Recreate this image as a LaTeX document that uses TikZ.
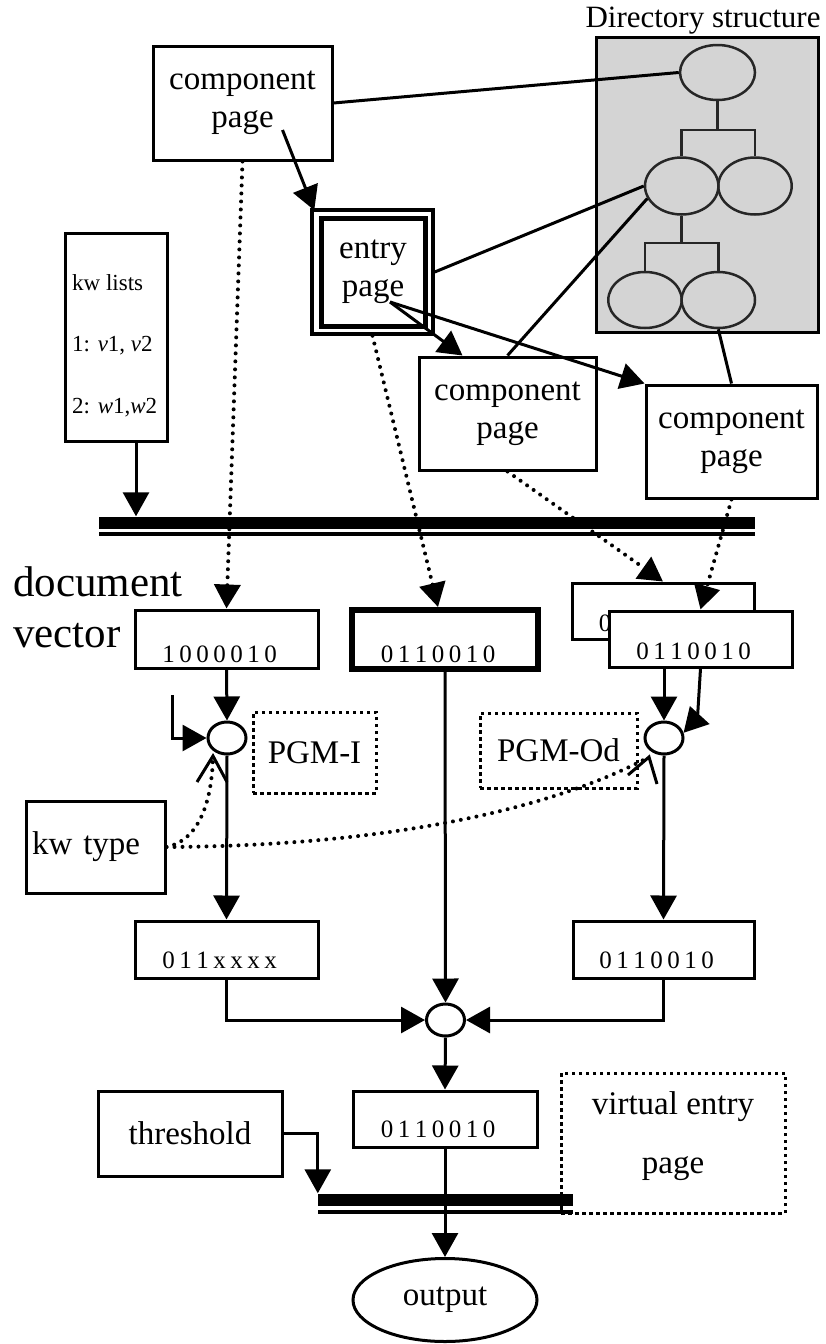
\documentclass[tikz,border=0pt]{standalone}
\usepackage{fontspec}
\setmainfont{Liberation Serif}
\usetikzlibrary{arrows.meta,shapes.geometric,calc}
\newcommand\fbig{\fontsize{33}{38}\selectfont}
\newcommand\fsmall{\fontsize{23}{27}\selectfont}
\newcommand\fbit{\fontsize{25}{29}\selectfont}
\newcommand\fhuge{\fontsize{43}{51}\selectfont}
\newcommand\fdir{\fontsize{31}{36}\selectfont}
\newcommand\bitstr[7]{#1\hspace{4.5pt}#2\hspace{4.5pt}#3\hspace{4.5pt}#4\hspace{4.5pt}#5\hspace{4.5pt}#6\hspace{4.5pt}#7}
\begin{document}
\begin{tikzpicture}[x=1pt,y=-1pt,
  >={Triangle[length=24pt,width=26pt]},
  cl/.style={line width=3pt},
  pbox/.style={draw, line width=3pt, fill=white, inner sep=0pt, font=\fbig, align=center},
  vbox/.style={draw, line width=3pt, fill=white, inner sep=0pt},
  bitst/.style={font=\fbit, inner sep=0pt},
  dotline/.style={line width=4pt, dash pattern=on 0pt off 8pt, line cap=round},
  dbox/.style={draw, line width=3pt, dash pattern=on 3.5pt off 3.5pt, inner sep=0pt, font=\fbig},
  direll/.style={ellipse, draw=black!85, line width=2.5pt, inner sep=0pt, minimum width=73.4pt, minimum height=57pt},
  dirln/.style={draw=black!85, line width=2.5pt},
  jn/.style={ellipse, draw, line width=3pt, fill=white, inner sep=0pt, minimum width=38pt, minimum height=32pt},
  bar/.style={fill=black, inner sep=0pt},
  txt/.style={inner sep=0pt}
]
\fill[white] (0,0) rectangle (825,1344);
\useasboundingbox (0,0) rectangle (825,1344);

% ---------- directory structure ----------
\node[txt, anchor=base, font=\fdir] (dirt) at (703,27) {Directory structure};
\node[draw, line width=3pt, fill=black!17, minimum width=222pt, minimum height=295pt, inner sep=0pt] (dir) at (707,184.5) {};
\node[direll, minimum width=75pt, minimum height=55pt] (d1) at (717.5,72.5) {};
\node[direll] (d2) at (681.7,186) {};
\node[direll] (d3) at (755,186) {};
\node[direll, minimum height=56pt] (d4) at (645,300) {};
\node[direll, minimum height=56pt] (d5) at (718.3,300) {};
\draw[dirln] (d1.south) -- (d1.south |- 0,130);
\draw[dirln] (d2.north) -- (d2.north |- 0,130) -- (d3.north |- 0,130) -- (d3.north);
\draw[dirln] (d2.south) -- (d2.south |- 0,243);
\draw[dirln] (d4.north) -- (d4.north |- 0,243) -- (d5.north |- 0,243) -- (d5.north);

% ---------- pages ----------
\node[pbox, minimum width=179pt, minimum height=114pt] (cp1) at (242.5,103) {component\\page};
\node[pbox, minimum width=177pt, minimum height=113pt] (cp2) at (507.5,413.5) {component\\page};
\node[pbox, minimum width=171pt, minimum height=113pt] (cp3) at (731.5,441.5) {component\\page};
\node[draw, line width=3.5pt, fill=white, minimum width=121pt, minimum height=124pt, inner sep=0pt] (epo) at (372.5,272) {};
\node[draw, line width=5pt, minimum width=104pt, minimum height=108pt, inner sep=0pt, font=\fbig, align=center] (ep) at (373,272) {entry\\page};

% ---------- kw lists ----------
\node[draw, line width=3pt, minimum width=102pt, minimum height=208pt, inner sep=0pt] (kw) at (116,337) {};
\node[txt, font=\fsmall, anchor=base west] (kw1) at (72,290) {kw lists};
\node[txt, font=\fsmall, anchor=base west] (kw2) at (72,351) {1: \textit{v}1, \textit{v}2};
\node[txt, font=\fsmall, anchor=base west] (kw3) at (72,413) {2: \textit{w}1,\textit{w}2};

% ---------- top bus ----------
\node[bar, minimum width=656pt, minimum height=12pt] (bus) at (427,522.5) {};
\node[bar, minimum width=656pt, minimum height=4pt] (busb) at (427,534) {};

% ---------- document vector ----------
\node[txt, font=\fhuge, anchor=base west] (dv1) at (13,596) {document};
\node[txt, font=\fhuge, anchor=base west] (dv2) at (13,647) {vector};

\node[vbox, minimum width=183pt, minimum height=58pt] (v1) at (226.5,639) {};
\node[bitst] (t1) at ($(v1.center)+(-7,15)$) {\bitstr1000010};
\node[vbox, line width=6pt, minimum width=186pt, minimum height=59pt] (vm) at (445,639.5) {};
\node[bitst] (tm) at ($(vm.center)+(-7,15)$) {\bitstr0110010};
\node[vbox, minimum width=182pt, minimum height=56pt] (vb) at (663,611) {};
\node[bitst] (tb) at ($(vb.center)+(-7,12)$) {\bitstr0110010};
\node[vbox, minimum width=183pt, minimum height=56pt] (vf) at (700.5,639) {};
\node[bitst] (tf) at ($(vf.center)+(-7,12)$) {\bitstr0110010};

% ---------- PGM ----------
\node[jn] (e1) at (227,738) {};
\node[jn] (e2) at (664,738) {};
\node[dbox, minimum width=123pt, minimum height=81pt] (pI) at (314.5,752.5) {PGM-I};
\node[dbox, minimum width=157pt, minimum height=75pt] (pO) at (558.5,750.5) {PGM-Od};
\node[draw, line width=3pt, fill=white, minimum height=92pt, text width=127pt, inner xsep=6pt, inner ysep=0pt, align=left, font=\fbig] (kt) at (95.5,847) {kw type};

\node[vbox, minimum width=183pt, minimum height=57pt] (v2) at (226.5,949.5) {};
\node[bitst] (t2) at ($(v2.center)+(-7,11)$) {\bitstr011xxxx};
\node[vbox, minimum width=181pt, minimum height=57pt] (v3) at (663.5,949.5) {};
\node[bitst] (t3) at ($(v3.center)+(-7,11)$) {\bitstr0110010};
\node[jn] (m) at (445.5,1020) {};

% ---------- bottom ----------
\node[vbox, minimum width=184pt, minimum height=56pt] (v4) at (445,1119) {};
\node[bitst] (t4) at ($(v4.center)+(-7,10)$) {\bitstr0110010};
\node[pbox, minimum width=184pt, minimum height=85pt] (th) at (190,1133.5) {threshold};
\node[dbox, minimum width=224pt, minimum height=140pt] (ve) at (673,1143) {};
\node[txt, font=\fbig, anchor=base] (ve1) at (673,1114) {virtual entry};
\node[txt, font=\fbig, anchor=base] (ve2) at (673,1173) {page};
\node[bar, minimum width=255pt, minimum height=12pt] (bb) at (445.5,1199.5) {};
\node[bar, minimum width=255pt, minimum height=4pt] (bb2) at (445.5,1211.5) {};
\node[ellipse, draw, line width=3pt, fill=white, minimum width=184pt, minimum height=83pt, inner sep=0pt, font=\fbig] (out) at (445,1300) {output};

% ---------- connectors: top ----------
\draw[cl] (cp1.east) -- (d1.west);
\draw[cl] (epo.east) -- (d2.west);
\draw[cl] (cp2.north) -- (d2.200);
\draw[cl] (cp3.north) -- (d5.south);
\draw[cl,->] ($(cp1.center)+(40,27)$) -- ($(epo.north west)+(4,2)$);
\coordinate (eps) at ($(ep.center)+(17,30)$);
\draw[cl,->] (eps) -- ($(cp2.north)+(-45,0)$);
\draw[cl,->] (eps) -- (cp3.north west);
\coordinate (kwo) at ($(kw.south)+(20,0)$);
\draw[cl,->] (kwo) -- (kwo |- bus.north);

\draw[dotline,->] (cp1.south) -- (v1.north);
\draw[dotline,->] (epo.south) -- ($(vm.north)+(-7,0)$);
\draw[dotline,->] (cp2.south) -- (vb.north);
\draw[dotline,->] (cp3.south) -- (vf.north);

% ---------- connectors: PGM ----------
\draw[cl,->] (v1.south) -- (e1.north);
\coordinate (s1) at (172,695);
\draw[cl,->] (s1) |- (e1.west);
\draw[cl,->] (e1.south) -- (v2.north);
\draw[cl,->] (e2.north |- vf.south) -- (e2.north);
\draw[cl,->] (vf.south) -- ++(-3,49) -- (e2.15);
\draw[cl,->] (e2.south) -- (v3.north);

\coordinate (a1) at (213,756);
\coordinate (a2) at (649,757);
\draw[dotline] (kt.east) .. controls (200,840) and (212,800) .. (a1);
\draw[dotline] (kt.east) .. controls (400,846) and (560,805) .. (a2);
\draw[cl] ($(a1)+(-16,26)$) -- (a1) -- ($(a1)+(14,26)$);
\draw[cl] ($(a2)+(-21,18)$) -- (a2) -- ($(a2)+(8,27)$);

% ---------- connectors: merge / output ----------
\draw[cl,->] (vm.south) -- (m.north);
\draw[cl,->] (v2.south) |- (m.west);
\draw[cl,->] (v3.south) |- (m.east);
\draw[cl,->] (m.south) -- (v4.north);
\draw[cl,->] (th.east) -| (bb.north west);
\draw[cl,->] (v4.south) -- (out.north);
\end{tikzpicture}
\end{document}
